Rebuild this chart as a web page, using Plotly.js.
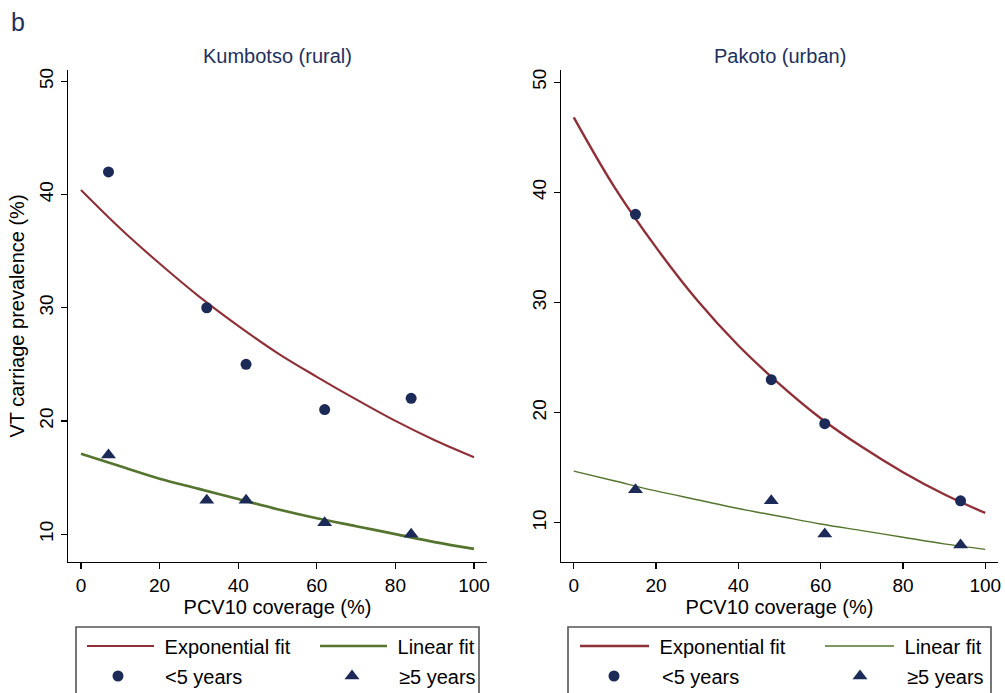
<!DOCTYPE html>
<html><head><meta charset="utf-8">
<script src="https://cdn.plot.ly/plotly-3.0.1.min.js"></script>
<style>html,body{margin:0;padding:0;background:#fff}#chart{width:1005px;height:693px}</style>
</head><body><div id="chart"></div>
<script>
// ---- data ----
const coverageTicks = [0, 20, 40, 60, 80, 100];
const prevalenceTicks = [10, 20, 30, 40, 50];

const ruralCoverage = [7, 32, 42, 62, 84];
const ruralUnder5 = [42, 30, 25, 21, 22];
const ruralOver5 = [17, 13, 13, 11, 10];

const urbanCoverage = [15, 48, 61, 94];
const urbanUnder5 = [38, 23, 19, 12];
const urbanOver5 = [13, 12, 9, 8];

const fitCoverage = [0, 10, 20, 30, 40, 50, 60, 70, 80, 90, 100];
const ruralExpFit = [40.4, 37.0, 33.9, 31.0, 28.4, 26.0, 23.9, 21.9, 20.0, 18.3, 16.8];
const ruralLinFit = [17.1, 16.0, 14.9, 14.0, 13.1, 12.2, 11.4, 10.7, 10.0, 9.3, 8.7];
const urbanExpFit = [46.8, 40.4, 35.0, 30.2, 26.1, 22.6, 19.5, 16.9, 14.6, 12.6, 10.9];
const urbanLinFit = [14.7, 13.8, 12.9, 12.1, 11.3, 10.6, 9.9, 9.3, 8.7, 8.1, 7.6];

const panelTitles = ['Kumbotso (rural)', 'Pakoto (urban)'];
const seriesNames = ['Exponential fit', 'Linear fit', '<5 years', '≥5 years'];
const xTitle = 'PCV10 coverage (%)';
const yTitle = 'VT carriage prevalence (%)';
const panelLetter = 'b';

// ---- styling ----
const W = 1005, H = 693;
const FONT = 'Liberation Sans, Arial, Helvetica, sans-serif';
const RED = '#8F3038', GREEN = '#55752F', NAVY = '#1B2A57', TITLE = '#22305E';
const px = v => v / W;
const py = v => 1 - v / H;
const pad = s => '\u00a0' + s;

function legendAt(xp, yp, w) {
  return {
    x: px(xp), y: py(yp), xref: 'paper', yref: 'paper',
    xanchor: 'left', yanchor: 'middle',
    orientation: 'v', itemwidth: w,
    bgcolor: 'rgba(0,0,0,0)', borderwidth: 0,
    font: {family: FONT, size: 20, color: '#000'},
    itemclick: false, itemdoubleclick: false
  };
}

const traces = [
  {x: fitCoverage, y: ruralExpFit, xaxis: 'x', yaxis: 'y', mode: 'lines', name: pad(seriesNames[0]),
   line: {color: RED, width: 2.1, shape: 'spline'}, legend: 'legend', hoverinfo: 'skip'},
  {x: fitCoverage, y: ruralLinFit, xaxis: 'x', yaxis: 'y', mode: 'lines', name: pad(seriesNames[1]),
   line: {color: GREEN, width: 2.7, shape: 'spline'}, legend: 'legend2', hoverinfo: 'skip'},
  {x: ruralCoverage, y: ruralUnder5, xaxis: 'x', yaxis: 'y', mode: 'markers', name: seriesNames[2],
   marker: {symbol: 'circle', size: 11, color: NAVY}, legend: 'legend3'},
  {x: ruralCoverage, y: ruralOver5, xaxis: 'x', yaxis: 'y', mode: 'markers', name: seriesNames[3],
   marker: {symbol: 'triangle-up', size: 13, color: NAVY}, legend: 'legend4'},

  {x: fitCoverage, y: urbanExpFit, xaxis: 'x2', yaxis: 'y2', mode: 'lines', name: pad(seriesNames[0]),
   line: {color: RED, width: 2.4, shape: 'spline'}, legend: 'legend5', hoverinfo: 'skip'},
  {x: fitCoverage, y: urbanLinFit, xaxis: 'x2', yaxis: 'y2', mode: 'lines', name: pad(seriesNames[1]),
   line: {color: GREEN, width: 1.4, shape: 'spline'}, legend: 'legend6', hoverinfo: 'skip'},
  {x: urbanCoverage, y: urbanUnder5, xaxis: 'x2', yaxis: 'y2', mode: 'markers', name: seriesNames[2],
   marker: {symbol: 'circle', size: 11, color: NAVY}, legend: 'legend7'},
  {x: urbanCoverage, y: urbanOver5, xaxis: 'x2', yaxis: 'y2', mode: 'markers', name: seriesNames[3],
   marker: {symbol: 'triangle-up', size: 13, color: NAVY}, legend: 'legend8'}
];

const tickFont = {family: FONT, size: 19, color: '#000'};
const titleFont = {family: FONT, size: 20, color: '#000'};
function xAxis(d0, d1, r, anchor) {
  return {
    domain: [px(d0), px(d1)], range: r, anchor: anchor,
    tickmode: 'array', tickvals: coverageTicks, ticktext: coverageTicks.map(String),
    ticks: 'outside', ticklen: 6, tickwidth: 1.2, tickcolor: '#000',
    showline: true, linecolor: '#000', linewidth: 1.4,
    showgrid: false, zeroline: false, tickfont: tickFont,
    title: {text: xTitle, font: titleFont, standoff: 4}, automargin: false
  };
}
function yAxis(r, anchor, withTitle) {
  return {
    domain: [py(562), py(70)], range: r, anchor: anchor,
    tickmode: 'array', tickvals: prevalenceTicks, ticktext: prevalenceTicks.map(String),
    ticks: 'outside', ticklen: 6, tickwidth: 1.2, tickcolor: '#000', tickangle: -90,
    showline: true, linecolor: '#000', linewidth: 1.4,
    showgrid: false, zeroline: false, tickfont: tickFont,
    title: withTitle ? {text: yTitle, font: titleFont, standoff: 6} : {text: ''},
    automargin: false
  };
}

const layout = {
  width: W, height: H,
  margin: {l: 0, r: 0, t: 0, b: 0, autoexpand: false},
  paper_bgcolor: '#fff', plot_bgcolor: '#fff',
  font: {family: FONT},
  showlegend: true,
  xaxis: xAxis(68, 487, [-3.3, 103.3], 'y'),
  yaxis: yAxis([7.54, 51.0], 'x', true),
  xaxis2: xAxis(561, 998, [-3.1, 103.1], 'y2'),
  yaxis2: yAxis([6.45, 51.1], 'x2', false),
  legend: legendAt(82, 646, 67),
  legend2: legendAt(315, 646, 67),
  legend3: legendAt(71, 676, 84),
  legend4: legendAt(305, 676, 84),
  legend5: legendAt(575, 646, 69),
  legend6: legendAt(820, 646, 69),
  legend7: legendAt(566, 676, 86),
  legend8: legendAt(813, 676, 84),
  annotations: [
    {text: panelTitles[0], x: px(277.5), y: py(56), xref: 'paper', yref: 'paper',
     showarrow: false, xanchor: 'center', yanchor: 'middle',
     font: {family: FONT, size: 20, color: TITLE}},
    {text: panelTitles[1], x: px(779.5), y: py(56), xref: 'paper', yref: 'paper',
     showarrow: false, xanchor: 'center', yanchor: 'middle',
     font: {family: FONT, size: 20, color: TITLE}},
    {text: panelLetter, x: px(9), y: py(22), xref: 'paper', yref: 'paper',
     showarrow: false, xanchor: 'left', yanchor: 'middle',
     font: {family: FONT, size: 25, color: TITLE}}
  ],
  shapes: [
    {type: 'rect', xref: 'paper', yref: 'paper', x0: px(76), x1: px(479), y0: py(627), y1: py(720),
     line: {color: '#555', width: 1.6}, fillcolor: 'rgba(0,0,0,0)'},
    {type: 'rect', xref: 'paper', yref: 'paper', x0: px(568), x1: px(991), y0: py(627), y1: py(720),
     line: {color: '#555', width: 1.6}, fillcolor: 'rgba(0,0,0,0)'}
  ]
};

Plotly.newPlot('chart', traces, layout, {staticPlot: true, displayModeBar: false});
</script>
</body></html>
